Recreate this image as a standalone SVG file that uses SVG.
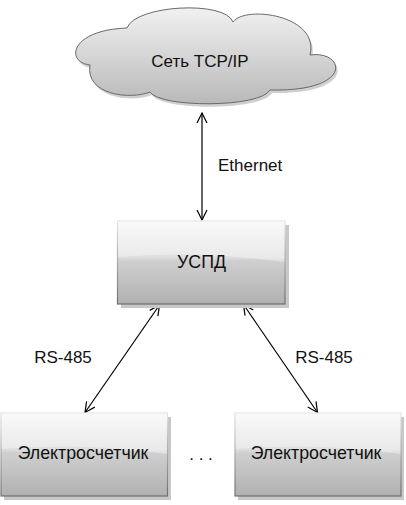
<svg xmlns="http://www.w3.org/2000/svg" width="406" height="505" viewBox="0 0 406 505">
<style>
text{font-family:"Liberation Sans",Arial,sans-serif;font-size:17px;fill:#111}
.c{text-anchor:middle}
.cy{font-size:17.8px}
.box{fill:url(#boxFill);stroke:url(#boxStroke);stroke-width:1.2}
.shadow{fill:#c8c8c8}
.gloss{fill:#ffffff;opacity:0.35}
.conn{stroke:#000;stroke-width:1.2;fill:none;marker-start:url(#arr);marker-end:url(#arr)}
</style>
<defs>
<linearGradient id="boxFill" x1="0" y1="0" x2="0" y2="1">
<stop offset="0" stop-color="#f7f7f7"/>
<stop offset="0.44" stop-color="#dedede"/>
<stop offset="0.48" stop-color="#cfcfcf"/>
<stop offset="1" stop-color="#b1b1b1"/>
</linearGradient>
<linearGradient id="boxStroke" x1="0" y1="0" x2="0" y2="1">
<stop offset="0" stop-color="#e4e4e4"/>
<stop offset="1" stop-color="#6e6e6e"/>
</linearGradient>
<linearGradient id="cloudFill" x1="0" y1="0" x2="0" y2="1">
<stop offset="0" stop-color="#f1f1f1"/>
<stop offset="1" stop-color="#b9b9b9"/>
</linearGradient>
<marker id="arr" viewBox="0 0 12 12" refX="11" refY="6" markerWidth="12" markerHeight="12" markerUnits="userSpaceOnUse" orient="auto-start-reverse">
<path d="M1,1 L11,6 L1,11" fill="none" stroke="#000" stroke-width="1.2"/>
</marker>
</defs>

<g id="connectors">
<line class="conn" x1="202" y1="113" x2="202" y2="220"/>
<line class="conn" x1="159.5" y1="305" x2="85" y2="412.5"/>
<line class="conn" x1="243.5" y1="304.5" x2="317.5" y2="412.5"/>
</g>

<g id="cloud">
<path transform="translate(2,3)" fill="#cfcfcf" d="M90,65 C65,62 70,30 127,28 C135,5 225,0 233,22 C245,5 320,15 310,55 C345,50 355,92 270,90 C260,108 160,108 150,92 C130,100 85,95 90,65 Z"/>
<path fill="url(#cloudFill)" stroke="#6a6a6a" stroke-width="1" d="M90,65 C65,62 70,30 127,28 C135,5 225,0 233,22 C245,5 320,15 310,55 C345,50 355,92 270,90 C260,108 160,108 150,92 C130,100 85,95 90,65 Z"/>
<text class="c" x="200" y="67">Сеть TCP/IP</text>
</g>

<g id="uspd">
<rect class="shadow" x="121" y="225" width="168" height="83"/>
<rect class="box" x="117.5" y="221" width="167.5" height="83"/>
<path class="gloss" d="M118,221.6 H284.4 V262 Q200,250 118,257 Z"/>
<text class="c cy" x="201.5" y="268">УСПД</text>
</g>

<g id="meter1">
<rect class="shadow" x="4" y="417" width="167" height="83"/>
<rect class="box" x="1" y="413" width="166.5" height="83"/>
<path class="gloss" d="M1.6,413.6 H166.9 V454 Q85,442 1.6,449 Z"/>
<text class="c cy" x="83" y="459">Электросчетчик</text>
</g>

<g id="meter2">
<rect class="shadow" x="238" y="417" width="166" height="83"/>
<rect class="box" x="235" y="413" width="166" height="83"/>
<path class="gloss" d="M235.6,413.6 H400.4 V454 Q318,442 235.6,449 Z"/>
<text class="c cy" x="316" y="459">Электросчетчик</text>
</g>

<g id="labels">
<text x="218" y="171">Ethernet</text>
<text class="c" x="63" y="363">RS-485</text>
<text class="c" x="324" y="363">RS-485</text>
<text class="c" x="201" y="460">. . .</text>
</g>
</svg>
